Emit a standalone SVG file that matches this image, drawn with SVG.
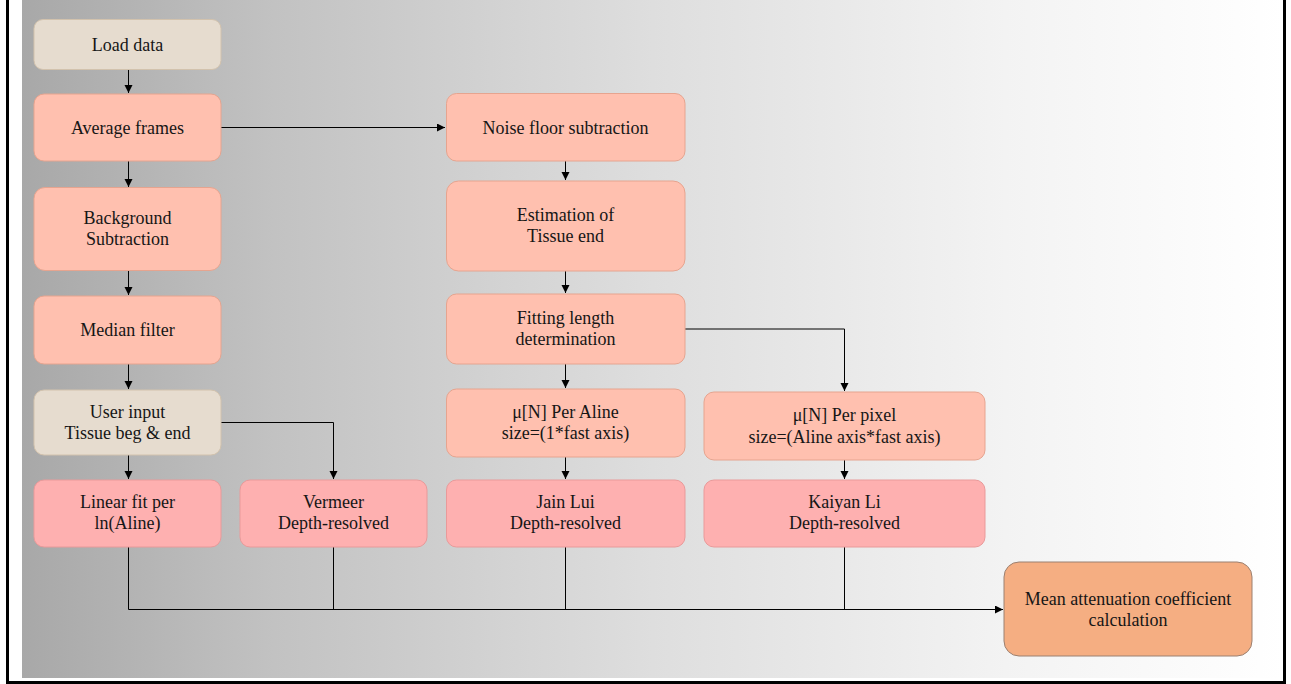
<svg xmlns="http://www.w3.org/2000/svg" width="1291" height="684" viewBox="0 0 1291 684">
<defs>
<linearGradient id="bg" x1="0" y1="0" x2="1" y2="0">
<stop offset="0" stop-color="#a8a8a8"/>
<stop offset="0.2" stop-color="#c2c2c2"/>
<stop offset="0.5" stop-color="#dedede"/>
<stop offset="0.78" stop-color="#f3f3f3"/>
<stop offset="1" stop-color="#ffffff"/>
</linearGradient>
<marker id="arr" markerWidth="10" markerHeight="10" refX="8" refY="4" orient="auto" markerUnits="userSpaceOnUse">
<path d="M0,0 L8,4 L0,8 Z" fill="#000"/>
</marker>
<style>
.box{stroke-width:1}
.beige{fill:#e6dccf;stroke:#d2c2ad}
.salmon{fill:#ffc0af;stroke:#e6a48f}
.pink{fill:#feb0b0;stroke:#e99a9a}
.orange{fill:#f5ae82;stroke:#9b8070}
text{font-family:"Liberation Serif","Times New Roman",serif;font-size:18px;fill:#161616;text-anchor:middle}
.c{fill:none;stroke:#000;stroke-width:1}
</style>
</defs>
<rect x="22" y="0" width="1261" height="678" fill="url(#bg)"/>
<rect x="7.5" y="-10" width="1277" height="692.5" fill="none" stroke="#000" stroke-width="3"/>

<g id="connectors">
<path class="c" d="M128.5,69.5 V93" marker-end="url(#arr)"/>
<path class="c" d="M128.5,161 V187" marker-end="url(#arr)"/>
<path class="c" d="M128.5,271 V295" marker-end="url(#arr)"/>
<path class="c" d="M128.5,364 V389" marker-end="url(#arr)"/>
<path class="c" d="M128.5,455 V479" marker-end="url(#arr)"/>
<path class="c" d="M221,422.5 H333.5 V479" marker-end="url(#arr)"/>
<path class="c" d="M221,127.5 H445" marker-end="url(#arr)"/>
<path class="c" d="M565.5,161 V180" marker-end="url(#arr)"/>
<path class="c" d="M565.5,271 V293" marker-end="url(#arr)"/>
<path class="c" d="M565.5,364 V388" marker-end="url(#arr)"/>
<path class="c" d="M685,329 H844.5 V391" marker-end="url(#arr)"/>
<path class="c" d="M565.5,457 V479" marker-end="url(#arr)"/>
<path class="c" d="M844.5,460 V479" marker-end="url(#arr)"/>
<path class="c" d="M128.5,547 V609.5 H1003" marker-end="url(#arr)"/>
<path class="c" d="M333.5,547 V609.5"/>
<path class="c" d="M565.5,547 V609.5"/>
<path class="c" d="M844.5,547 V609.5"/>
</g>

<g id="load-data"><rect class="box beige" x="34" y="19.5" width="187" height="50" rx="9"/><text x="127.5" y="51">Load data</text></g>
<g id="average-frames"><rect class="box salmon" x="34" y="94" width="187" height="67" rx="10"/><text x="127.5" y="133.5">Average frames</text></g>
<g id="background-subtraction"><rect class="box salmon" x="34" y="187.5" width="187" height="83" rx="11"/><text x="127.5" y="224">Background</text><text x="127.5" y="245">Subtraction</text></g>
<g id="median-filter"><rect class="box salmon" x="34" y="296" width="187" height="68" rx="10"/><text x="127.5" y="336">Median filter</text></g>
<g id="user-input"><rect class="box beige" x="34" y="390" width="187" height="65" rx="10"/><text x="127.5" y="418">User input</text><text x="127.5" y="439">Tissue beg &amp; end</text></g>
<g id="linear-fit"><rect class="box pink" x="34" y="480" width="187" height="67" rx="10"/><text x="127.5" y="508">Linear fit per</text><text x="127.5" y="529">ln(Aline)</text></g>
<g id="vermeer"><rect class="box pink" x="240" y="480" width="187" height="67" rx="10"/><text x="333.5" y="508">Vermeer</text><text x="333.5" y="529">Depth-resolved</text></g>
<g id="noise-floor"><rect class="box salmon" x="446.5" y="93.5" width="238.5" height="67.5" rx="10"/><text x="565.5" y="133.5">Noise floor subtraction</text></g>
<g id="estimation"><rect class="box salmon" x="446.5" y="181" width="238.5" height="90" rx="12"/><text x="565.5" y="221">Estimation of</text><text x="565.5" y="242">Tissue end</text></g>
<g id="fitting-length"><rect class="box salmon" x="446.5" y="294" width="238.5" height="70" rx="10"/><text x="565.5" y="324">Fitting length</text><text x="565.5" y="345">determination</text></g>
<g id="mu-per-aline"><rect class="box salmon" x="446.5" y="389" width="238.5" height="68" rx="10"/><text x="565.5" y="418">μ[N] Per Aline</text><text x="565.5" y="439">size=(1*fast axis)</text></g>
<g id="mu-per-pixel"><rect class="box salmon" x="704" y="392" width="281" height="68" rx="10"/><text x="844.5" y="421">μ[N] Per pixel</text><text x="844.5" y="442.5">size=(Aline axis*fast axis)</text></g>
<g id="jain-lui"><rect class="box pink" x="446.5" y="480" width="238.5" height="67" rx="10"/><text x="565.5" y="508">Jain Lui</text><text x="565.5" y="529">Depth-resolved</text></g>
<g id="kaiyan-li"><rect class="box pink" x="704" y="480" width="281" height="67" rx="10"/><text x="844.5" y="508">Kaiyan Li</text><text x="844.5" y="529">Depth-resolved</text></g>
<g id="mean-attenuation"><rect class="box orange" x="1004" y="562" width="248" height="94" rx="15"/><text x="1128" y="605">Mean attenuation coefficient</text><text x="1128" y="626">calculation</text></g>
</svg>
